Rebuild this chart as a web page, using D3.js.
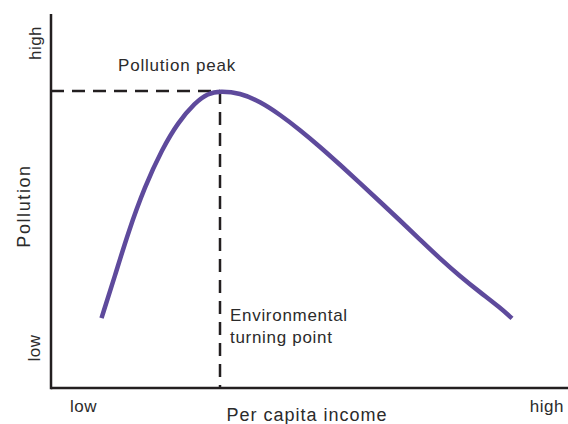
<!DOCTYPE html>
<html>
<head>
<meta charset="utf-8">
<script src="https://cdn.jsdelivr.net/npm/d3@7"></script>
<style>
  html, body { margin: 0; padding: 0; background: #fff; }
  svg { display: block; font-family: "Liberation Sans", Arial, sans-serif; }
</style>
</head>
<body>
<div id="chart"></div>
<script>
const width = 568;
const height = 424;

// per capita income (0-100) and pollution (0-100)
const income = [10.1, 12.8, 15.4, 18.8, 22.2, 25.4, 28.8, 31.4, 33.8, 37.8, 41.8, 45.8, 49.8,
  53.8, 57.8, 61.8, 65.8, 69.8, 73.8, 77.8, 81.8, 85.8, 89.8, 92.2];
const pollution = [18.7, 30.0, 41.5, 54.0, 63.8, 71.0, 76.3, 78.8, 79.4, 78.9, 76.6, 73.1, 69.0,
  64.5, 59.7, 54.8, 49.8, 44.8, 39.7, 34.6, 29.9, 25.6, 21.5, 18.6];
const peak = { income: 33.8, pollution: 79.4 };
const axisEnds = ["low", "high"];

const x = d3.scaleLinear().domain([0, 100]).range([51, 551]);
const y = d3.scaleLinear().domain([0, 100]).range([388, 14]);

const svg = d3.select("#chart").append("svg")
  .attr("width", width)
  .attr("height", height);

const ink = "#231f20";

// dashed guides to the peak
svg.append("line")
  .attr("x1", x(0)).attr("x2", x(peak.income))
  .attr("y1", y(peak.pollution)).attr("y2", y(peak.pollution))
  .attr("stroke", ink).attr("stroke-width", 2.5)
  .attr("stroke-dasharray", "13,8");

svg.append("line")
  .attr("x1", x(peak.income)).attr("x2", x(peak.income))
  .attr("y1", y(peak.pollution)).attr("y2", y(0))
  .attr("stroke", ink).attr("stroke-width", 2.5)
  .attr("stroke-dasharray", "13,8");

// the curve
const pts = income.map((d, i) => [d, pollution[i]]);
svg.append("path")
  .datum(pts)
  .attr("fill", "none")
  .attr("stroke", "#5e4a9c")
  .attr("stroke-width", 4.5)
  .attr("d", d3.line().x(d => x(d[0])).y(d => y(d[1])).curve(d3.curveBasis));

// axes
svg.append("line")
  .attr("x1", x(0)).attr("x2", width)
  .attr("y1", y(0)).attr("y2", y(0))
  .attr("stroke", ink).attr("stroke-width", 2.5);
svg.append("line")
  .attr("x1", x(0)).attr("x2", x(0))
  .attr("y1", y(100)).attr("y2", y(0) + 1.25)
  .attr("stroke", ink).attr("stroke-width", 2.5);

const txt = "#2b2b2b";

// x end labels
svg.append("text").attr("x", 70).attr("y", 412)
  .attr("font-size", 17).attr("letter-spacing", 0.5).attr("fill", txt).text(axisEnds[0]);
svg.append("text").attr("x", 564).attr("y", 412)
  .attr("text-anchor", "end")
  .attr("font-size", 17).attr("letter-spacing", 0.5).attr("fill", txt).text(axisEnds[1]);

// y end labels
svg.append("text")
  .attr("transform", `translate(40,${348}) rotate(-90)`)
  .attr("text-anchor", "middle")
  .attr("font-size", 17).attr("letter-spacing", 0.5).attr("fill", txt).text(axisEnds[0]);
svg.append("text")
  .attr("transform", `translate(41,${43}) rotate(-90)`)
  .attr("text-anchor", "middle")
  .attr("font-size", 17).attr("letter-spacing", 0.5).attr("fill", txt).text(axisEnds[1]);

// axis titles
svg.append("text")
  .attr("x", 307).attr("y", 421)
  .attr("text-anchor", "middle")
  .attr("font-size", 18).attr("letter-spacing", 1).attr("fill", txt).text("Per capita income");
svg.append("text")
  .attr("transform", `translate(30,${206}) rotate(-90)`)
  .attr("text-anchor", "middle")
  .attr("font-size", 18).attr("letter-spacing", 1.6).attr("fill", txt).text("Pollution");

// annotations
svg.append("text")
  .attr("x", 118).attr("y", 71)
  .attr("font-size", 17).attr("letter-spacing", 0.8).attr("fill", txt).text("Pollution peak");
svg.append("text")
  .attr("x", 230).attr("y", 321)
  .attr("font-size", 17).attr("letter-spacing", 0.7).attr("fill", txt).text("Environmental");
svg.append("text")
  .attr("x", 230).attr("y", 343)
  .attr("font-size", 17).attr("letter-spacing", 0.7).attr("fill", txt).text("turning point");
</script>
</body>
</html>
